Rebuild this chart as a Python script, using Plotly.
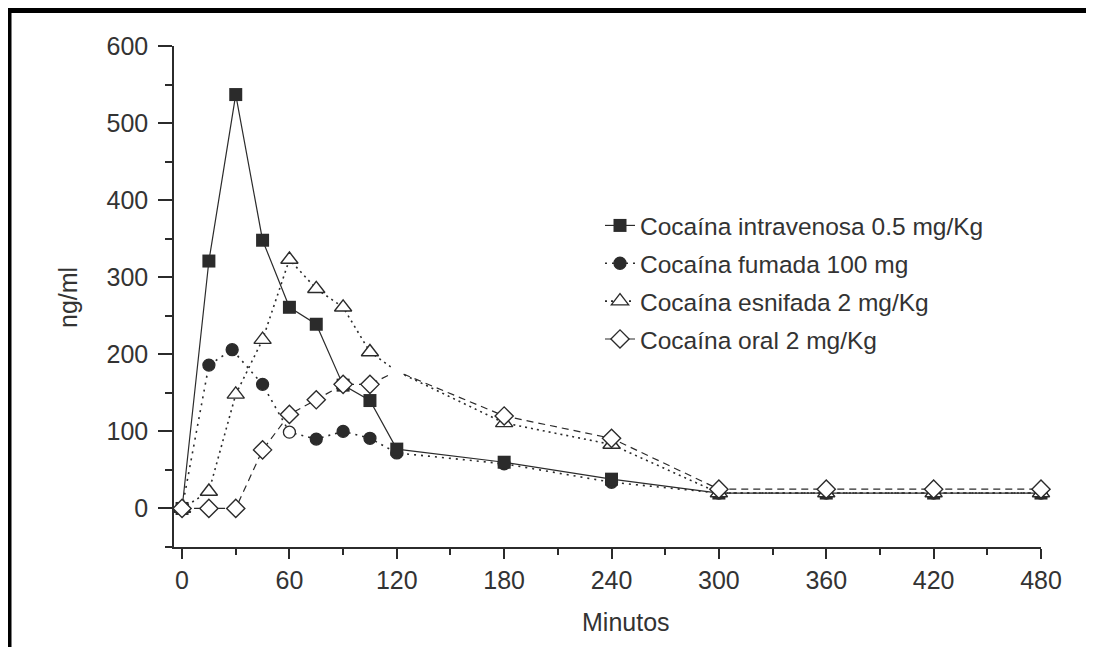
import plotly.graph_objects as go

# ---- data ----
minutos = [0, 15, 30, 45, 60, 75, 90, 105, 120, 180, 240, 300, 360, 420, 480]
minutos_fumada = [0, 15, 28, 45, 60, 75, 90, 105, 120, 180, 240, 300, 360, 420, 480]

intravenosa = [0, 321, 537, 348, 261, 239, 160, 140, 77, 60, 38, 20, 20, 20, 20]
fumada = [0, 186, 206, 161, 99, 90, 100, 91, 72, 58, 34, 20, 20, 20, 20]
esnifada = [0, 22, 148, 219, 323, 285, 261, 203, 178, 111, 83, 20, 20, 20, 20]
oral = [0, 0, 0, 76, 122, 141, 161, 161, 178, 120, 91, 25, 25, 25, 25]

x_ticks = [0, 60, 120, 180, 240, 300, 360, 420, 480]
y_ticks = [0, 100, 200, 300, 400, 500, 600]

names = ["Cocaína intravenosa 0.5 mg/Kg", "Cocaína fumada 100 mg",
         "Cocaína esnifada 2 mg/Kg", "Cocaína oral 2 mg/Kg"]

# ---- layout geometry (screen pixels of the reference) ----
OFF = 8  # page body margin of the html page
W, H = 1094 - OFF, 647 - OFF
L, R, T, B = 174 - OFF, 1041 - OFF, 46 - OFF, 547 - OFF
FONT = "Liberation Sans, Arial, Helvetica, sans-serif"
INK = "#2b2b2b"
TXT = "#333333"


def px_x(p):
    return (p - OFF - L) / (R - L)


def px_y(p):
    return (B - (p - OFF)) / (B - T)


# style arrays derived in code
fum_fill = ["white" if t == 60 else INK for t in minutos_fumada]
hidden_lw = [0 if t == 120 else 1.4 for t in minutos]

fig = go.Figure()

fig.add_trace(go.Scatter(
    x=minutos_fumada, y=fumada, name=names[1], mode="lines+markers",
    line=dict(color=INK, width=1.6, dash="2px,5px"),
    marker=dict(symbol="circle", size=12, color=fum_fill,
                line=dict(color=INK, width=1.3)),
    cliponaxis=False, legendrank=2, legendgroup="g2"))

fig.add_trace(go.Scatter(
    x=minutos, y=intravenosa, name=names[0], mode="lines+markers",
    line=dict(color=INK, width=1.2),
    marker=dict(symbol="square", size=13, color=INK,
                line=dict(color=INK, width=0)),
    cliponaxis=False, legendrank=1, legendgroup="g1"))

fig.add_trace(go.Scatter(
    x=minutos, y=esnifada, name=names[2], mode="lines+markers",
    line=dict(color=INK, width=1.6, dash="2px,4px"),
    marker=dict(symbol="triangle-up", size=15, color="white",
                line=dict(color=INK, width=hidden_lw)),
    cliponaxis=False, legendrank=3, legendgroup="g3"))

fig.add_trace(go.Scatter(
    x=minutos, y=oral, name=names[3], mode="lines+markers",
    line=dict(color=INK, width=1.2, dash="7px,5px"),
    marker=dict(symbol="diamond", size=14, color="white",
                line=dict(color=INK, width=hidden_lw)),
    cliponaxis=False, legendrank=4, legendgroup="g4"))

axis_common = dict(showline=True, linecolor=INK, linewidth=1.5,
                   ticks="outside", tickcolor=INK, tickwidth=1.5,
                   showgrid=False, zeroline=False,
                   tickfont=dict(family=FONT, size=25, color=TXT))

fig.update_xaxes(range=[-4.5, 480], tickvals=x_ticks,
                 ticktext=[str(v) for v in x_ticks], ticklen=10,
                 minor=dict(dtick=30, tick0=0, ticklen=6, ticks="outside",
                            tickcolor=INK, tickwidth=1.5),
                 **axis_common)
fig.update_yaxes(range=[-50, 600], tickvals=y_ticks,
                 ticktext=[str(v) for v in y_ticks], ticklen=14,
                 ticklabelstandoff=5,
                 minor=dict(dtick=50, tick0=0, ticklen=7, ticks="outside",
                            tickcolor=INK, tickwidth=1.5),
                 **axis_common)

fig.update_layout(
    width=W, height=H,
    margin=dict(l=L, r=W - R, t=T, b=H - B),
    paper_bgcolor="white", plot_bgcolor="white",
    font=dict(family=FONT, size=24, color=TXT),
    showlegend=True,
    legend=dict(x=px_x(600), y=px_y(203), xanchor="left", yanchor="top",
                bgcolor="rgba(0,0,0,0)", borderwidth=0,
                font=dict(family=FONT, size=24.5, color=TXT),
                tracegroupgap=3, traceorder="grouped"),
    annotations=[
        dict(text="ng/ml", x=px_x(68), y=px_y(298), xref="paper", yref="paper",
             xanchor="center", yanchor="middle",
             textangle=-90, showarrow=False,
             font=dict(family=FONT, size=25, color=TXT)),
        dict(text="Minutos", x=px_x(626), y=px_y(622), xref="paper", yref="paper",
             xanchor="center", yanchor="middle",
             showarrow=False, font=dict(family=FONT, size=25, color=TXT)),
    ],
    shapes=[
        dict(type="rect", xref="paper", yref="paper",
             x0=px_x(8.5), y0=px_y(10), x1=px_x(1130), y1=px_y(690),
             line=dict(color="black", width=6), fillcolor="rgba(0,0,0,0)",
             layer="above"),
    ],
)

fig.write_html("out.html")
